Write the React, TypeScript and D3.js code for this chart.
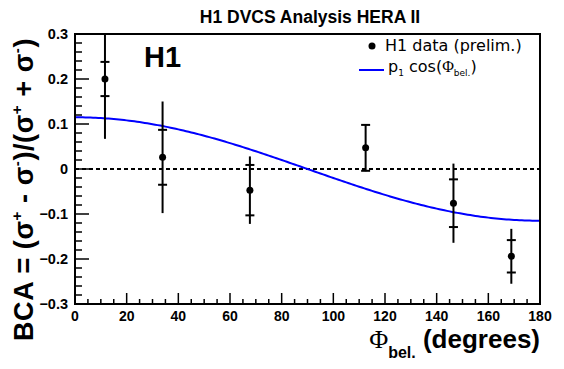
import React, { useEffect, useRef } from 'react';
import * as d3 from 'd3';

// H1 preliminary BCA points
const phiDeg = [11.6, 33.9, 67.7, 112.5, 146.5, 168.9];
const bca = [0.2, 0.026, -0.047, 0.047, -0.076, -0.194];
const statErr = [0.038, 0.061, 0.056, 0.051, 0.053, 0.036];
const totErr = [0.133, 0.124, 0.075, 0.052, 0.088, 0.061];
// fit parameter of p1*cos(phi)
const p1 = 0.115;

const xTicks = [0, 20, 40, 60, 80, 100, 120, 140, 160, 180];
const yTicks = [-0.3, -0.2, -0.1, 0, 0.1, 0.2, 0.3];

const FONT = 'Liberation Sans, Arial, Helvetica, sans-serif';

function BcaChart() {
  const svgRef = useRef<SVGSVGElement>(null);

  useEffect(() => {
    const W = 564;
    const H = 369;
    const left = 75;
    const right = 540;
    const top = 34;
    const bottom = 304;

    const svg = d3.select(svgRef.current).attr('width', W).attr('height', H);
    svg.selectAll('*').remove();

    const x = d3.scaleLinear().domain([0, 180]).range([left, right]);
    const y = d3.scaleLinear().domain([-0.3, 0.3]).range([bottom, top]);
    const clampY = (v: number) => y(Math.max(-0.3, Math.min(0.3, v)));

    svg.append('rect').attr('width', W).attr('height', H).attr('fill', 'white');

    // title
    svg
      .append('text')
      .attr('x', 310)
      .attr('y', 23)
      .attr('text-anchor', 'middle')
      .style('font-family', FONT)
      .style('font-weight', 'bold')
      .style('font-size', '17.5px')
      .text('H1 DVCS Analysis HERA II');

    // zero line
    svg
      .append('line')
      .attr('x1', left)
      .attr('x2', right)
      .attr('y1', y(0))
      .attr('y2', y(0))
      .attr('stroke', 'black')
      .attr('stroke-width', 2)
      .attr('stroke-dasharray', '4,3');

    // fit curve
    const fitX = d3.range(0, 180.5, 1);
    const line = d3
      .line<number>()
      .x((d) => x(d))
      .y((d) => y(p1 * Math.cos((d * Math.PI) / 180)));
    svg
      .append('path')
      .datum(fitX)
      .attr('d', line)
      .attr('fill', 'none')
      .attr('stroke', '#0000ff')
      .attr('stroke-width', 2);

    // data points with errors
    const pts = svg.append('g');
    phiDeg.forEach((p, i) => {
      const cx = x(p);
      pts
        .append('line')
        .attr('x1', cx)
        .attr('x2', cx)
        .attr('y1', clampY(bca[i] + totErr[i]))
        .attr('y2', clampY(bca[i] - totErr[i]))
        .attr('stroke', 'black')
        .attr('stroke-width', 2);
      [bca[i] + statErr[i], bca[i] - statErr[i]].forEach((v) => {
        pts
          .append('line')
          .attr('x1', cx - 4.5)
          .attr('x2', cx + 4.5)
          .attr('y1', y(v))
          .attr('y2', y(v))
          .attr('stroke', 'black')
          .attr('stroke-width', 2);
      });
      pts.append('circle').attr('cx', cx).attr('cy', y(bca[i])).attr('r', 3.5).attr('fill', 'black');
    });

    // ticks
    const ax = svg.append('g').attr('stroke', 'black').attr('stroke-width', 1.5);
    d3.range(0, 181, 5).forEach((t) => {
      const len = t % 20 === 0 ? 11 : 5;
      ax.append('line').attr('x1', x(t)).attr('x2', x(t)).attr('y1', bottom).attr('y2', bottom - len);
    });
    d3.range(-30, 31, 2).forEach((k) => {
      const len = k % 10 === 0 ? 14 : 7;
      ax.append('line').attr('x1', left).attr('x2', left + len).attr('y1', y(k / 100)).attr('y2', y(k / 100));
    });

    // frame
    svg
      .append('rect')
      .attr('x', left)
      .attr('y', top)
      .attr('width', right - left)
      .attr('height', bottom - top)
      .attr('fill', 'none')
      .attr('stroke', 'black')
      .attr('stroke-width', 2);

    // tick labels
    svg
      .append('g')
      .selectAll('text')
      .data(xTicks)
      .enter()
      .append('text')
      .attr('x', (d) => x(d))
      .attr('y', 321)
      .attr('text-anchor', 'middle')
      .style('font-family', FONT)
      .style('font-weight', 'bold')
      .style('font-size', '14px')
      .text((d) => d);
    svg
      .append('g')
      .selectAll('text')
      .data(yTicks)
      .enter()
      .append('text')
      .attr('x', 68)
      .attr('y', (d) => y(d) + 5)
      .attr('text-anchor', 'end')
      .style('font-family', FONT)
      .style('font-weight', 'bold')
      .style('font-size', '14.5px')
      .text((d) => (d === 0 ? '0' : d3.format('.1f')(d)));

    // H1 label
    svg
      .append('text')
      .attr('x', 144)
      .attr('y', 67)
      .style('font-family', FONT)
      .style('font-weight', 'bold')
      .style('font-size', '29px')
      .text('H1');

    // x axis title
    const xt = svg
      .append('text')
      .attr('x', right)
      .attr('y', 348)
      .attr('text-anchor', 'end')
      .style('font-family', FONT)
      .style('font-weight', 'bold')
      .style('font-size', '26px');
    xt.append('tspan').style('font-family', 'Liberation Serif, serif').style('font-weight', 'normal').text('Φ');
    xt.append('tspan').attr('dy', 10).style('font-size', '16px').text('bel.');
    xt.append('tspan').attr('dy', -10).text(' (degrees)');

    // y axis title, drawn from the bottom up
    const yt = svg
      .append('text')
      .attr('transform', `translate(33,341) rotate(-90)`)
      .style('font-family', FONT)
      .style('font-weight', 'bold')
      .style('font-size', '27px')
      .style('letter-spacing', '0.6px')
      .attr('xml:space', 'preserve');
    const parts: [string, number][] = [
      ['BCA = (σ', 0],
      ['+', -11],
      [' - σ', 11],
      ['-', -11],
      [')/(σ', 11],
      ['+', -11],
      [' + σ', 11],
      ['-', -11],
      [')', 11],
    ];
    parts.forEach(([s, dy]) => {
      const t = yt.append('tspan').attr('dy', dy).text(s);
      if (dy < 0) t.style('font-size', '15px');
    });

    // legend
    const lg = svg.append('g').style('font-family', 'DejaVu Sans, sans-serif').style('font-size', '16px');
    lg.append('circle').attr('cx', 372).attr('cy', 46).attr('r', 3.5).attr('fill', 'black');
    lg.append('text').attr('x', 385).attr('y', 51).text('H1 data (prelim.)');
    lg.append('line').attr('x1', 359).attr('x2', 384).attr('y1', 70).attr('y2', 70).attr('stroke', '#0000ff').attr('stroke-width', 2);
    const lt = lg.append('text').attr('x', 388).attr('y', 72);
    lt.append('tspan').text('p');
    lt.append('tspan').attr('dy', 4).style('font-size', '9px').text('1');
    lt.append('tspan').attr('dy', -4).text(' cos(');
    lt.append('tspan').style('font-family', 'Liberation Serif, serif').text('Φ');
    lt.append('tspan').attr('dy', 4).style('font-size', '9px').text('bel.');
    lt.append('tspan').attr('dy', -4).text(')');
  }, []);

  return <svg ref={svgRef} style={{ position: 'absolute', left: 0, top: 0 }}></svg>;
}

export default function App() {
  return <BcaChart />;
}
